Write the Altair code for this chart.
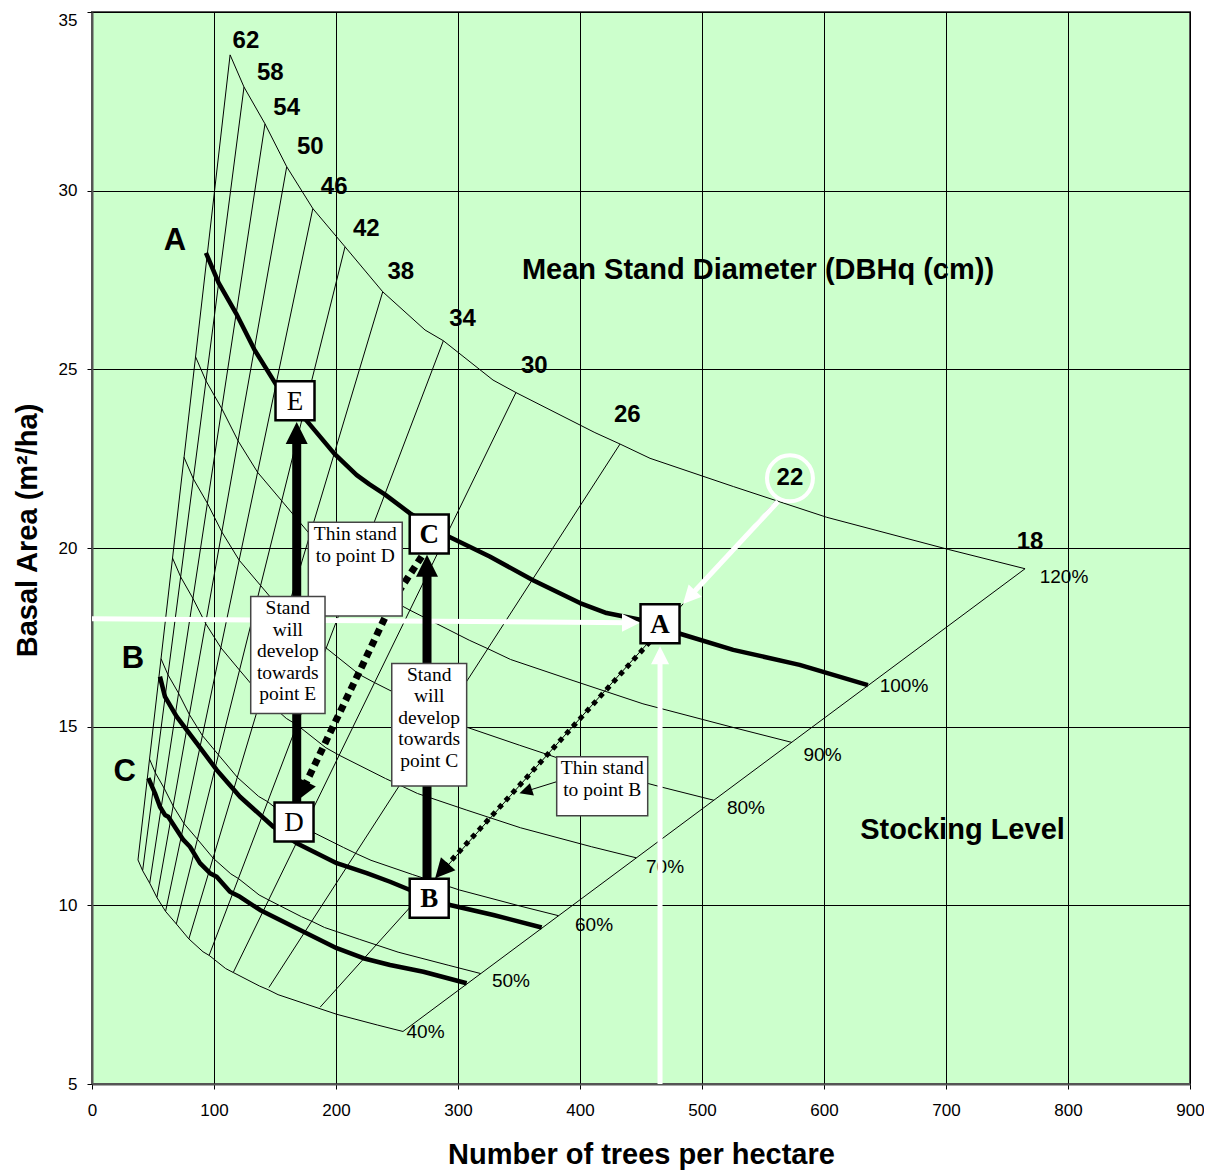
import altair as alt
import pandas as pd

# ---------------- values ----------------
x_ticks = [0, 100, 200, 300, 400, 500, 600, 700, 800, 900]
y_ticks = [5, 10, 15, 20, 25, 30, 35]

# thin stocking-level curves: trees per hectare (N) and basal area (BA)
stock_names = ["40%", "50%", "60%", "70%", "80%", "90%", "120%"]
s40_n = [37.7, 41.5, 47.3, 53.2, 60.3, 69.1, 79.4, 91.0, 96.0, 109.6, 115.8, 137.4, 144.3, 152.5, 175.2, 200.7, 234.0, 254.9]
s40_ba = [11.27, 10.97, 10.62, 10.22, 9.83, 9.48, 9.06, 8.70, 8.60, 8.23, 8.12, 7.74, 7.64, 7.50, 7.24, 6.95, 6.65, 6.47]
s50_n = [47.2, 51.9, 59.1, 66.5, 75.4, 86.4, 99.3, 113.8, 120.0, 137.0, 144.8, 171.8, 180.4, 190.6, 219.1, 250.9, 292.5, 318.7]
s50_ba = [14.09, 13.71, 13.28, 12.78, 12.29, 11.85, 11.32, 10.88, 10.75, 10.29, 10.15, 9.68, 9.55, 9.38, 9.05, 8.69, 8.32, 8.09]
s60_n = [56.6, 62.3, 70.9, 79.8, 90.5, 103.7, 119.2, 136.5, 144.0, 164.3, 173.8, 206.1, 216.4, 228.7, 262.9, 301.1, 350.9, 382.4]
s60_ba = [16.90, 16.45, 15.94, 15.34, 14.75, 14.21, 13.58, 13.05, 12.90, 12.35, 12.17, 11.62, 11.45, 11.26, 10.86, 10.43, 9.98, 9.71]
s70_n = [66.0, 72.7, 82.7, 93.1, 105.6, 121.0, 139.0, 159.3, 168.0, 191.7, 202.7, 240.5, 252.5, 266.8, 306.7, 351.3, 409.4, 446.1]
s70_ba = [19.72, 19.19, 18.59, 17.89, 17.21, 16.58, 15.85, 15.23, 15.05, 14.41, 14.20, 13.55, 13.36, 13.13, 12.67, 12.17, 11.64, 11.33]
s80_n = [75.4, 83.0, 94.6, 106.4, 120.6, 138.2, 158.9, 182.0, 192.0, 219.1, 231.7, 274.8, 288.6, 305.0, 350.5, 401.4, 467.9, 509.8]
s80_ba = [22.54, 21.94, 21.25, 20.45, 19.66, 18.95, 18.11, 17.40, 17.20, 16.46, 16.23, 15.49, 15.27, 15.01, 14.48, 13.90, 13.30, 12.94]
s90_n = [84.9, 93.4, 106.4, 119.7, 135.7, 155.5, 178.7, 204.8, 216.0, 246.5, 260.6, 309.2, 324.6, 343.1, 394.3, 451.6, 526.4, 573.6]
s90_ba = [25.35, 24.68, 23.90, 23.00, 22.12, 21.32, 20.38, 19.58, 19.35, 18.52, 18.26, 17.42, 17.18, 16.88, 16.29, 15.64, 14.97, 14.56]
s120_n = [113.2, 124.6, 141.8, 159.6, 181.0, 207.4, 238.3, 273.0, 288.0, 328.7, 347.5, 412.2, 432.8, 457.4, 525.7, 602.2, 701.9, 764.8]
s120_ba = [33.80, 32.90, 31.87, 30.67, 29.50, 28.43, 27.17, 26.10, 25.80, 24.70, 24.35, 23.23, 22.91, 22.51, 21.72, 20.86, 19.96, 19.42]

# percentage labels
pct_text = ["120%", "100%", "90%", "80%", "70%", "60%", "50%", "40%"]
pct_n = [796.7, 665.6, 598.8, 536.0, 469.7, 411.5, 343.4, 273.4]
pct_ba = [19.19, 16.14, 14.21, 12.72, 11.07, 9.45, 7.88, 6.46]

# mean stand diameter lines (cm)
diam = [62, 58, 54, 50, 46, 42, 38, 34, 30, 26, 22, 18]
diam_low_n = [37.7, 41.5, 47.3, 53.2, 60.3, 69.1, 79.4, 96.0, 115.8, 145.0, 187.0, 254.9]
diam_low_ba = [11.27, 10.97, 10.62, 10.22, 9.83, 9.48, 9.06, 8.60, 8.12, 7.70, 7.15, 6.47]
diam_high_n = [113.2, 124.6, 141.8, 159.6, 181.0, 207.4, 238.3, 288.0, 347.5, 432.8, 560.0, 764.8]
diam_high_ba = [33.80, 32.90, 31.87, 30.67, 29.50, 28.43, 27.17, 25.80, 24.35, 22.91, 21.30, 19.42]
diam_lab_n = [126.2, 146.1, 159.6, 178.9, 198.5, 224.8, 253.1, 303.7, 362.5, 438.8, 572.1, 768.9]
diam_lab_ba = [34.20, 33.30, 32.32, 31.21, 30.10, 28.94, 27.72, 26.42, 25.09, 23.71, 21.95, 20.17]

# thick guide curves A (100%), B and C
curve_a_n = [93.4, 103.8, 118.2, 133.0, 150.8, 172.8, 198.6, 217.0, 227.5, 240.0, 260.7, 291.8, 326.0, 361.5, 400.0, 421.8, 465.6, 482.0, 525.6, 580.0, 636.0]
curve_a_ba = [28.26, 27.42, 26.56, 25.56, 24.58, 23.69, 22.64, 22.04, 21.78, 21.50, 20.97, 20.33, 19.76, 19.10, 18.46, 18.18, 17.88, 17.60, 17.15, 16.73, 16.16]
curve_b_n = [55.7, 59.8, 69.4, 85.8, 102.2, 121.3, 148.6, 167.8, 176.0, 200.6, 225.2, 244.3, 260.7, 293.4, 329.0, 368.6]
curve_b_ba = [16.40, 15.84, 15.28, 14.54, 13.79, 13.04, 12.20, 11.74, 11.60, 11.18, 10.90, 10.66, 10.43, 10.01, 9.73, 9.38]
curve_c_n = [46.2, 51.6, 55.7, 59.8, 62.5, 74.9, 80.3, 88.5, 96.7, 102.2, 113.1, 121.3, 137.7, 170.5, 200.6, 222.4, 244.3, 271.6, 307.1]
curve_c_ba = [13.56, 13.14, 12.76, 12.53, 12.48, 11.83, 11.64, 11.18, 10.90, 10.80, 10.38, 10.24, 9.87, 9.31, 8.80, 8.52, 8.33, 8.14, 7.82]
curve_names = ["A", "B", "C"]
curve_lab_n = [68.0, 33.6, 26.8]
curve_lab_ba = [28.59, 16.89, 13.73]

# lettered points
box_letters = ["E", "C", "A", "D", "B"]
box_n = [166.4, 276.4, 465.6, 165.6, 276.4]
box_ba = [24.12, 20.39, 17.88, 12.33, 10.20]
box_bold = [False, True, True, False, True]

# note boxes (frame corners and position of the first text line)
notes = ["Thin  stand\nto  point  D", "Stand\nwill\ndevelop\ntowards\npoint  E",
         "Stand\nwill\ndevelop\ntowards\npoint  C", "Thin  stand\nto  point  B"]
note_n1 = [177.3, 130.1, 245.7, 380.9]
note_n2 = [254.3, 191.0, 307.1, 455.5]
note_ba1 = [18.10, 15.37, 13.34, 12.51]
note_ba2 = [20.72, 18.64, 16.77, 14.16]
note_tn = [215.8, 160.5, 276.4, 418.2]
note_tb = [20.39, 18.32, 16.45, 13.84]

# arrows
shaft_e_n = [167.8, 167.8]
shaft_e_ba = [12.88, 22.95]
shaft_c_n = [274.6, 274.6]
shaft_c_ba = [10.74, 19.40]
dot_cd_n = [270.2, 247.0, 222.4, 173.8]
dot_cd_ba = [19.76, 18.55, 16.77, 13.31]
dot_ab_n = [457.4, 286.6]
dot_ab_ba = [17.38, 10.96]
ptr_d_n = [225.2, 237.5]
ptr_d_ba = [19.06, 18.78]
ptr_b_n = [380.9, 355.5]
ptr_b_ba = [13.46, 13.19]
white_h_n = [0.0, 441.8]
white_h_ba = [18.02, 17.91]
white_v_n = [465.6, 465.6]
white_v_ba = [5.0, 17.0]
white_d_n = [562.3, 489.4]
white_d_ba = [21.30, 18.62]
circle_n = [572.1]
circle_ba = [21.95]

head_n = [167.8, 274.6, 172.5, 286.6, 237.5, 355.5, 441.8, 465.6, 489.4]
head_ba = [23.22, 19.50, 13.20, 10.96, 18.78, 13.19, 17.91, 17.00, 18.62]
head_ang = [0, 0, 206, 222, 124, 252, 90, 0, 223]
head_size = [484, 484, 400, 380, 169, 169, 324, 324, 324]
head_col = ["black", "black", "black", "black", "black", "black", "white", "white", "white"]

# ---------------- building the chart ----------------
SANS = "Liberation Sans"
SERIF = "Liberation Serif"

xscale = alt.Scale(domain=[0, 900], nice=False, zero=False)
yscale = alt.Scale(domain=[5, 35], nice=False, zero=False)
common_axis = dict(grid=True, gridColor="black", gridWidth=1, gridOpacity=1,
                   domainColor="#555555", domainWidth=2, tickColor="black",
                   tickSize=5, tickWidth=1, labelFont=SANS, labelFontSize=17,
                   labelColor="black", labelOverlap=False, labelFlush=False,
                   titleFont=SANS, titleFontSize=29, titleFontWeight="bold",
                   titleColor="black", titleAlign="center", titleBaseline="middle")
xaxis = alt.Axis(values=x_ticks, title="Number of trees per hectare", labelPadding=13,
                 titleX=549, titleY=70, **common_axis)
yaxis = alt.Axis(values=y_ticks, title="Basal Area (m²/ha)", labelPadding=10,
                 titleX=-65, titleY=518, titleAngle=270,
                 labelBaseline={"condition": {"test": "datum.value == 35", "value": "top"},
                                "value": "middle"},
                 **common_axis)


def X(f="N"):
    return alt.X(f + ":Q", scale=xscale, axis=xaxis)


def Y(f="BA"):
    return alt.Y(f + ":Q", scale=yscale, axis=yaxis)


def poly(groups):
    rows = []
    for g, ns, bas in groups:
        for i, (n, b) in enumerate(zip(ns, bas)):
            rows.append({"g": g, "i": i, "N": n, "BA": b})
    return pd.DataFrame(rows)


def line_layer(df, **kw):
    return alt.Chart(df).mark_line(**kw).encode(
        x=X(), y=Y(), detail="g:N", order=alt.Order("i:Q"))


stock_df = poly([(nm, ns, bs) for nm, ns, bs in zip(
    stock_names,
    [s40_n, s50_n, s60_n, s70_n, s80_n, s90_n, s120_n],
    [s40_ba, s50_ba, s60_ba, s70_ba, s80_ba, s90_ba, s120_ba])])
diam_df = poly([(str(d), [a, b], [c, e]) for d, a, b, c, e in zip(
    diam, diam_low_n, diam_high_n, diam_low_ba, diam_high_ba)])
thick_df = poly([("A", curve_a_n, curve_a_ba), ("B", curve_b_n, curve_b_ba),
                 ("C", curve_c_n, curve_c_ba)])

stock_layer = line_layer(stock_df, color="black", strokeWidth=1)
diam_layer = line_layer(diam_df, color="black", strokeWidth=1)
thick_layer = line_layer(thick_df, color="black", strokeWidth=4.5, strokeJoin="round")

pct_df = pd.DataFrame({"N": pct_n, "BA": pct_ba, "t": pct_text})
pct_layer = alt.Chart(pct_df).mark_text(font=SANS, fontSize=19, color="black",
                                        align="center", baseline="middle").encode(
    x=X(), y=Y(), text="t:N")

white_df = poly([("h", white_h_n, white_h_ba), ("v", white_v_n, white_v_ba),
                 ("d", white_d_n, white_d_ba)])
white_layer = line_layer(white_df, color="white", strokeWidth=5, strokeCap="butt")

circle_df = pd.DataFrame({"N": circle_n, "BA": circle_ba})
circle_layer = alt.Chart(circle_df).mark_point(shape="circle", size=2116, filled=False,
                                               stroke="white", strokeWidth=4,
                                               opacity=1).encode(x=X(), y=Y())

shaft_df = poly([("e", shaft_e_n, shaft_e_ba), ("c", shaft_c_n, shaft_c_ba)])
shaft_layer = line_layer(shaft_df, color="black", strokeWidth=9, strokeCap="butt")

dot_cd_layer = line_layer(poly([("cd", dot_cd_n, dot_cd_ba)]), color="black",
                          strokeWidth=7, strokeDash=[7, 5], strokeCap="butt")
dot_ab_layer = line_layer(poly([("ab", dot_ab_n, dot_ab_ba)]), color="black",
                          strokeWidth=5, strokeDash=[5, 5], strokeCap="butt")
ptr_layer = line_layer(poly([("pd", ptr_d_n, ptr_d_ba), ("pb", ptr_b_n, ptr_b_ba)]),
                       color="black", strokeWidth=1)

head_df = pd.DataFrame({"N": head_n, "BA": head_ba, "ang": head_ang,
                        "sz": head_size, "col": head_col})
head_layer = alt.Chart(head_df).mark_point(shape="M0,-1L1,1L-1,1Z", filled=True,
                                           opacity=1, strokeWidth=0).encode(
    x=X(), y=Y(), angle=alt.Angle("ang:Q", scale=None),
    size=alt.Size("sz:Q", scale=None), color=alt.Color("col:N", scale=None))

note_df = pd.DataFrame({"N": note_n1, "N2": note_n2, "BA": note_ba1, "BA2": note_ba2,
                        "t": notes, "tn": note_tn, "tb": note_tb})
note_rect = alt.Chart(note_df).mark_rect(fill="white", stroke="#444444",
                                         strokeWidth=1.5).encode(
    x=X(), x2=alt.X2("N2:Q"), y=Y(), y2=alt.Y2("BA2:Q"))
note_text = alt.Chart(note_df).mark_text(font=SERIF, fontSize=19.5, color="black",
                                         align="center", baseline="middle",
                                         lineBreak="\n", lineHeight=21.5).encode(
    x=X("tn"), y=Y("tb"), text="t:N")

box_df = pd.DataFrame({"N": box_n, "BA": box_ba, "t": box_letters, "bold": box_bold})
box_layer = alt.Chart(box_df).mark_square(size=1521, fill="white", stroke="black",
                                          strokeWidth=2.5, opacity=1).encode(x=X(), y=Y())
box_text_n = alt.Chart(box_df[~box_df["bold"]]).mark_text(
    font=SERIF, fontSize=27, color="black", align="center", baseline="middle", dy=1).encode(
    x=X(), y=Y(), text="t:N")
box_text_b = alt.Chart(box_df[box_df["bold"]]).mark_text(
    font=SERIF, fontSize=27, fontWeight="bold", color="black", align="center",
    baseline="middle", dy=1).encode(x=X(), y=Y(), text="t:N")

dl_df = pd.DataFrame({"N": diam_lab_n, "BA": diam_lab_ba, "t": [str(d) for d in diam]})
dl_layer = alt.Chart(dl_df).mark_text(font=SANS, fontSize=24, fontWeight="bold",
                                      color="black", align="center",
                                      baseline="middle").encode(x=X(), y=Y(), text="t:N")

cl_df = pd.DataFrame({"N": curve_lab_n, "BA": curve_lab_ba, "t": curve_names})
cl_layer = alt.Chart(cl_df).mark_text(font=SANS, fontSize=31, fontWeight="bold",
                                      color="black", align="center",
                                      baseline="middle").encode(x=X(), y=Y(), text="t:N")

title_df = pd.DataFrame({"N": [545.9, 713.5], "BA": [27.78, 12.11],
                         "t": ["Mean Stand Diameter  (DBHq (cm))", "Stocking Level"]})
title_layer = alt.Chart(title_df).mark_text(font=SANS, fontSize=29, fontWeight="bold",
                                            color="black", align="center",
                                            baseline="middle").encode(
    x=X(), y=Y(), text="t:N")

chart = alt.layer(
    stock_layer, diam_layer, thick_layer, pct_layer, white_layer, circle_layer,
    shaft_layer, dot_cd_layer, dot_ab_layer, ptr_layer, head_layer,
    note_rect, note_text, box_layer, box_text_n, box_text_b,
    dl_layer, cl_layer, title_layer
).properties(
    width=1098, height=1072,
    autosize=alt.AutoSizeParams(type="none"),
    padding={"left": 84, "top": 4, "right": 14, "bottom": 86},
).configure_view(fill="#CCFFCC", stroke="#555555", strokeWidth=2)

chart.save("out.html", embed_options={"renderer": "svg", "actions": False})
